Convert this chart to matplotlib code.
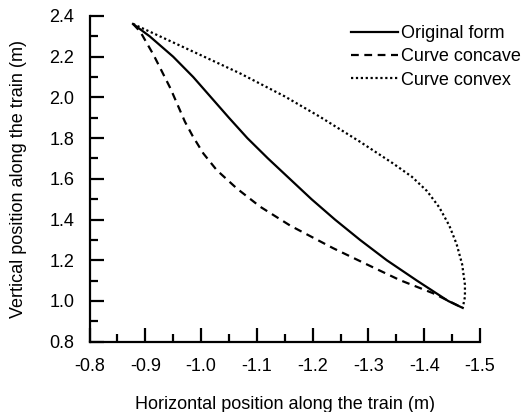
import matplotlib
matplotlib.use("Agg")
import matplotlib.pyplot as plt
from matplotlib.ticker import MultipleLocator

plt.rcParams['font.family'] = ['Liberation Sans', 'DejaVu Sans']

# Original form (solid)
orig_x = [-0.878, -0.908, -0.950, -0.986, -1.018, -1.050, -1.083, -1.120, -1.159, -1.198, -1.240, -1.285, -1.333, -1.387, -1.443, -1.469]
orig_y = [2.361, 2.300, 2.200, 2.100, 2.000, 1.900, 1.800, 1.700, 1.600, 1.500, 1.400, 1.300, 1.200, 1.100, 1.000, 0.966]

# Curve concave (dashed)
conc_x = [-0.878, -0.891, -0.915, -0.945, -0.971, -0.985, -1.004, -1.028, -1.064, -1.106, -1.160, -1.237, -1.297, -1.356, -1.416, -1.452, -1.469]
conc_y = [2.361, 2.323, 2.208, 2.045, 1.881, 1.810, 1.725, 1.643, 1.553, 1.463, 1.370, 1.259, 1.180, 1.103, 1.038, 0.989, 0.966]

# Curve convex (dotted)
conv_x = [-0.878, -1.000, -1.070, -1.150, -1.213, -1.285, -1.344, -1.378, -1.405, -1.427, -1.445, -1.458, -1.468, -1.473, -1.473, -1.469]
conv_y = [2.361, 2.207, 2.118, 2.005, 1.905, 1.782, 1.676, 1.610, 1.540, 1.460, 1.370, 1.280, 1.180, 1.080, 1.020, 0.966]

labels = ["Original form", "Curve concave", "Curve convex"]

fig = plt.figure(figsize=(5.25, 4.12), dpi=100)
ax = fig.add_axes([89.5/525, 1 - 341.7/412, (480 - 89.5)/525, (341.7 - 16)/412])

l1, = ax.plot(orig_x, orig_y, color='black', lw=1.6, linestyle='-')
l2, = ax.plot(conc_x, conc_y, color='black', lw=1.6, linestyle=(0, (3.5, 2.5)))
l3, = ax.plot(conv_x, conv_y, color='black', lw=1.6, linestyle=(0, (1, 1.2)))

ax.set_xlim(-0.8, -1.5)
ax.set_ylim(0.8, 2.4)
ax.xaxis.set_major_locator(MultipleLocator(0.1))
ax.xaxis.set_minor_locator(MultipleLocator(0.05))
ax.yaxis.set_major_locator(MultipleLocator(0.2))
ax.yaxis.set_minor_locator(MultipleLocator(0.1))
ax.xaxis.set_major_formatter(plt.FuncFormatter(lambda v, p: f"{v:.1f}"))
ax.yaxis.set_major_formatter(plt.FuncFormatter(lambda v, p: f"{v:.1f}"))

for s in ['top', 'right']:
    ax.spines[s].set_visible(False)
for s in ['left', 'bottom']:
    ax.spines[s].set_linewidth(1.6)

ax.tick_params(which='major', direction='in', length=10, width=1.6, labelsize=13)
ax.tick_params(which='minor', direction='in', length=5.5, width=1.6)
ax.tick_params(axis='x', which='major', pad=12)
ax.tick_params(axis='y', which='major', pad=11)

ax.set_xlabel("Horizontal position along the train (m)", fontsize=13, labelpad=15)
ax.set_ylabel("Vertical position along the train (m)", fontsize=13, labelpad=16)

fig.legend([l1, l2, l3], labels, loc='upper left', bbox_to_anchor=(351/525, 1 - 25/412),
           frameon=False, fontsize=13, handlelength=2.6, handletextpad=0.15,
           labelspacing=0.35, borderpad=0, borderaxespad=0)

fig.savefig("out.png", dpi=100)
